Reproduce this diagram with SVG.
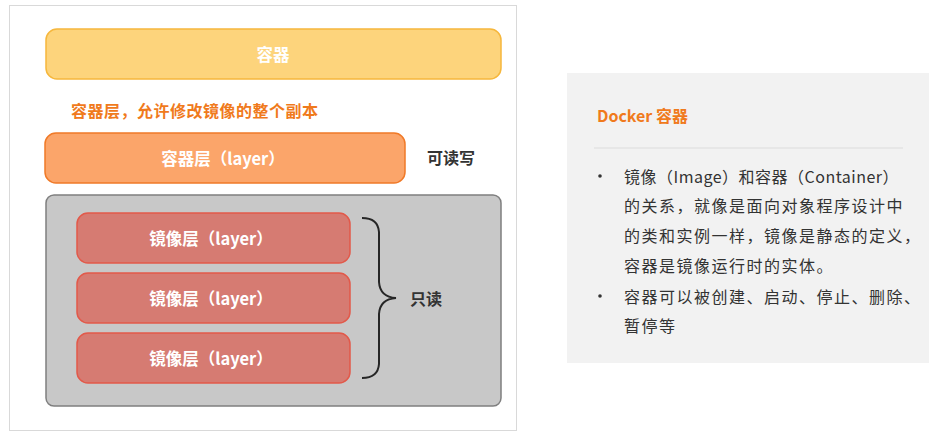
<svg xmlns="http://www.w3.org/2000/svg" width="943" height="439" viewBox="0 0 943 439">
<style>
text{font-family:"Noto Sans CJK SC","Noto Sans",sans-serif;}
.w{fill:#ffffff;font-size:16.5px;font-weight:bold;text-anchor:middle;dominant-baseline:central;}
.img{fill:#d67b72;stroke:#e2594a;stroke-width:1.5;}
.dk{fill:#333333;font-size:16px;font-weight:bold;dominant-baseline:central;}
.body{fill:#333333;font-size:16px;letter-spacing:1.5px;dominant-baseline:central;}
</style>
<rect x="0" y="0" width="943" height="439" fill="#ffffff"/>
<rect x="9.5" y="5.5" width="507" height="425" fill="#ffffff" stroke="#d9d9d9" stroke-width="1"/>
<g id="container">
<rect x="46" y="29" width="455" height="50" rx="11" fill="#fdd47c" stroke="#f6b73c" stroke-width="1.5"/>
<text class="w" x="273" y="54">容器</text>
</g>
<g id="note">
<text x="71" y="110" font-size="16" letter-spacing="0.5" font-weight="bold" fill="#f07a1c" dominant-baseline="central">容器层，允许修改镜像的整个副本</text>
</g>
<g id="container-layer">
<rect x="45" y="133" width="360" height="50" rx="11" fill="#fba56a" stroke="#f07a28" stroke-width="1.5"/>
<text class="w" x="223" y="158">容器层（layer）</text>
</g>
<g id="rw-label">
<text class="dk" x="427" y="157">可读写</text>
</g>
<g id="image-stack">
<rect x="46" y="195" width="455" height="211" rx="8" fill="#c8c8c8" stroke="#7f7f7f" stroke-width="1.5"/>
</g>
<g id="image-layer-1">
<rect class="img" x="77" y="213" width="273" height="50" rx="11"/>
<text class="w" x="211" y="238">镜像层（layer）</text>
</g>
<g id="image-layer-2">
<rect class="img" x="77" y="273" width="273" height="50" rx="11"/>
<text class="w" x="211" y="298">镜像层（layer）</text>
</g>
<g id="image-layer-3">
<rect class="img" x="77" y="333" width="273" height="50" rx="11"/>
<text class="w" x="211" y="358">镜像层（layer）</text>
</g>
<g id="connectors">
<path d="M362 218 Q378 218 379 232 L379 282 Q380 297 396 298 Q380 299 379 314 L379 364 Q378 378 362 378" fill="none" stroke="#262626" stroke-width="2"/>
</g>
<g id="ro-label">
<text class="dk" x="410" y="298">只读</text>
</g>
<g id="panel">
<rect x="567" y="73" width="362" height="290" fill="#f2f2f2"/>
<text x="597" y="115" font-size="16" font-weight="bold" fill="#f07a1c" dominant-baseline="central">Docker 容器</text>
<line x1="594" y1="148" x2="903" y2="148" stroke="#dcdcdc" stroke-width="1"/>
<circle cx="600" cy="176" r="1.8" fill="#333333"/>
<circle cx="600" cy="296" r="1.8" fill="#333333"/>
<text class="body" x="624" y="176" textLength="276" lengthAdjust="spacing">镜像（Image）和容器（Container）</text>
<text class="body" x="624" y="205">的关系，就像是面向对象程序设计中</text>
<text class="body" x="624" y="235">的类和实例一样，镜像是静态的定义，</text>
<text class="body" x="624" y="265">容器是镜像运行时的实体。</text>
<text class="body" x="624" y="296">容器可以被创建、启动、停止、删除、</text>
<text class="body" x="624" y="325">暂停等</text>
</g>
</svg>
